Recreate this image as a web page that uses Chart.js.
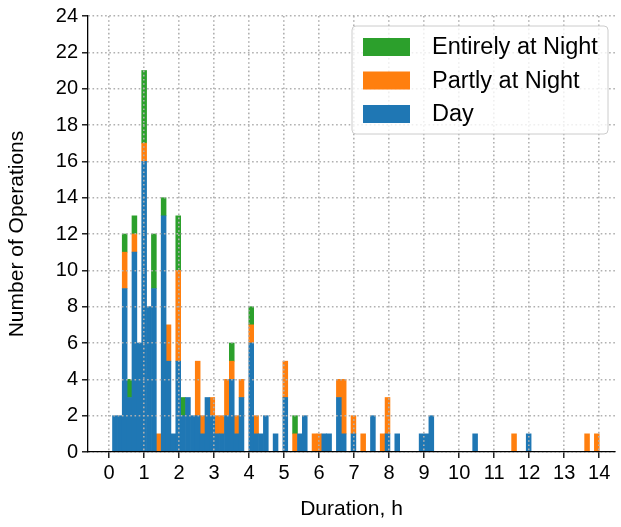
<!DOCTYPE html>
<html>
<head>
<meta charset="utf-8">
<script src="https://cdn.jsdelivr.net/npm/chart.js@4/dist/chart.umd.min.js"></script>
<style>
  body { margin: 0; background: #fff; }
  #wrap { width: 621px; height: 527px; }
</style>
</head>
<body>
<div id="wrap"><canvas id="chart"></canvas></div>
<script>
// histogram bins (centre of each non-empty bin, hours)
const binCentres = [0.1695, 0.3085, 0.4475, 0.5865, 0.7255, 0.8645, 1.0035, 1.1425, 1.2815, 1.4205,
  1.5595, 1.6985, 1.8375, 1.9765, 2.1155, 2.2545, 2.3935, 2.5325, 2.6715, 2.8105,
  2.9495, 3.0885, 3.2275, 3.3665, 3.5055, 3.6445, 3.7835, 4.0615, 4.2005, 4.3395,
  4.4785, 4.7565, 5.0345, 5.3125, 5.4515, 5.5905, 5.8685, 6.0075, 6.1465, 6.2855,
  6.5635, 6.7025, 6.9805, 7.2585, 7.5365, 7.8145, 7.9535, 8.2315, 8.9265, 9.0655,
  9.2045, 10.4555, 11.5675, 11.9845, 13.6525, 13.9305];

// number of operations per bin
const dayCounts = [2, 2, 9, 3, 11, 6, 16, 8, 9, 0,
  13, 5, 1, 5, 2, 3, 2, 2, 1, 3,
  2, 1, 1, 2, 4, 1, 3, 6, 1, 1,
  2, 1, 3, 0, 1, 2, 0, 0, 1, 1,
  3, 1, 1, 0, 2, 0, 1, 1, 1, 1,
  2, 1, 0, 1, 0, 0];
const partlyNightCounts = [0, 0, 2, 0, 1, 0, 1, 0, 0, 1,
  0, 2, 0, 5, 0, 0, 0, 3, 1, 0,
  1, 1, 1, 2, 1, 1, 1, 1, 1, 0,
  0, 0, 2, 1, 0, 0, 1, 1, 0, 0,
  1, 3, 1, 1, 0, 1, 2, 0, 0, 0,
  0, 0, 1, 0, 1, 1];
const nightCounts = [0, 0, 1, 1, 1, 0, 4, 0, 3, 0,
  1, 0, 0, 3, 1, 0, 0, 0, 0, 0,
  0, 0, 0, 0, 1, 0, 0, 1, 0, 0,
  0, 0, 0, 1, 0, 0, 0, 0, 0, 0,
  0, 0, 0, 0, 0, 0, 0, 0, 0, 0,
  0, 0, 0, 0, 0, 0];

const seriesLabels = ['Day', 'Partly at Night', 'Entirely at Night'];
const seriesColors = ['#1f77b4', '#ff7f0e', '#2ca02c'];

const yTicksMax = 24;

Chart.defaults.font.family = '"Liberation Sans", Arial, sans-serif';
Chart.defaults.font.size = 20;
Chart.defaults.color = '#000';

function toPoints(counts) {
  return binCentres.map((x, i) => ({ x: x, y: counts[i] === 0 ? null : counts[i] }));
}

// legend in a rounded box, like matplotlib
const boxLegend = {
  id: 'boxLegend',
  afterDraw(chart) {
    const ctx = chart.ctx;
    const a = chart.chartArea;
    const x0 = a.right - 263, y0 = a.top + 10, w = 256, h = 108;
    ctx.save();
    ctx.beginPath();
    ctx.roundRect(x0, y0, w, h, 4);
    ctx.fillStyle = 'rgba(255,255,255,0.8)';
    ctx.fill();
    ctx.strokeStyle = '#cccccc';
    ctx.lineWidth = 1;
    ctx.stroke();
    const items = chart.data.datasets.slice().reverse();
    ctx.font = '23.5px "Liberation Sans", Arial, sans-serif';
    ctx.textBaseline = 'middle';
    items.forEach((ds, k) => {
      const cy = y0 + 21 + k * 33.5;
      ctx.fillStyle = ds.backgroundColor;
      ctx.fillRect(x0 + 11, cy - 9, 47, 18);
      ctx.fillStyle = '#000';
      ctx.fillText(ds.label, x0 + 80, cy + 1);
    });
    ctx.restore();
  }
};

new Chart(document.getElementById('chart'), {
  type: 'bar',
  data: {
    datasets: seriesLabels.map((lab, k) => ({
      label: lab,
      data: toPoints([dayCounts, partlyNightCounts, nightCounts][k]),
      backgroundColor: seriesColors[k],
      borderWidth: 0,
      barPercentage: 1,
      categoryPercentage: 1
    }))
  },
  options: {
    responsive: true,
    maintainAspectRatio: false,
    animation: false,
    devicePixelRatio: 1,
    layout: { padding: { left: 0, right: 6, top: 15, bottom: 0 } },
    plugins: { legend: { display: false }, tooltip: { enabled: false } },
    scales: {
      x: {
        type: 'linear',
        stacked: true,
        offset: false,
        min: -0.6,
        max: 14.45,
        ticks: { stepSize: 1, includeBounds: false, padding: 3, maxRotation: 0 },
        grid: { offset: false, color: '#b0b0b0', lineWidth: 1.6, z: 1,
                tickColor: '#000', tickLength: 6, tickWidth: 1.3 },
        border: { color: '#000', width: 1.3, dash: [1.6, 2.6], z: 2 },
        title: { display: true, text: 'Duration, h', font: { size: 21 }, padding: { top: 0, bottom: 5 } },
        afterFit: (s) => { s.height = 75; }
      },
      y: {
        stacked: true,
        min: 0,
        max: yTicksMax,
        ticks: { stepSize: 2, padding: 4 },
        grid: { color: '#b0b0b0', lineWidth: 1.6, z: 1,
                tickColor: '#000', tickLength: 6, tickWidth: 1.3 },
        border: { color: '#000', width: 1.3, dash: [1.6, 2.6], z: 2 },
        title: { display: true, text: 'Number of Operations', font: { size: 21 }, padding: { top: 5, bottom: 0 } },
        afterFit: (s) => { s.width = 88; }
      }
    }
  },
  plugins: [boxLegend]
});
</script>
</body>
</html>
